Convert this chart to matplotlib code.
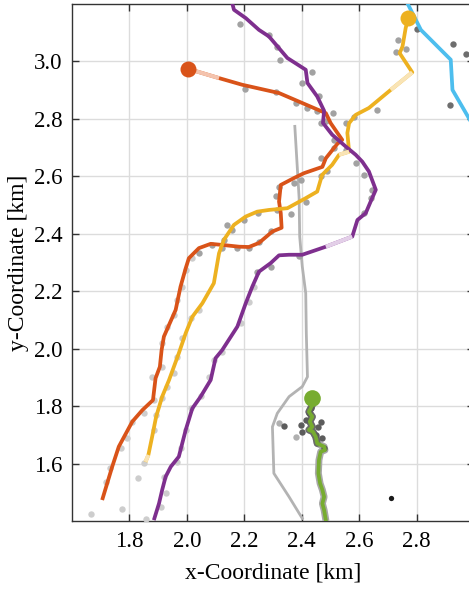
import matplotlib.pyplot as plt

plt.rcParams['font.family'] = ['Liberation Serif', 'DejaVu Serif']
plt.rcParams['mathtext.fontset'] = 'stix'

# --- trajectories (x, y in km) ---
orange_x = [2.005, 2.112, 2.192, 2.321, 2.484, 2.501, 2.541, 2.524, 2.484, 2.472, 2.408, 2.373,
            2.327, 2.321, 2.327, 2.330, 2.298, 2.251, 2.216, 2.182, 2.135, 2.083, 2.042, 2.007,
            1.996, 1.978, 1.961, 1.938, 1.920, 1.912, 1.906, 1.891, 1.882, 1.845, 1.810, 1.763,
            1.740, 1.705]
orange_y = [2.974, 2.942, 2.919, 2.890, 2.820, 2.785, 2.727, 2.713, 2.663, 2.633, 2.611, 2.594,
            2.570, 2.512, 2.472, 2.421, 2.408, 2.368, 2.354, 2.355, 2.360, 2.365, 2.350, 2.315,
            2.280, 2.216, 2.135, 2.083, 2.042, 1.995, 1.937, 1.897, 1.821, 1.786, 1.746, 1.659,
            1.589, 1.473]
orange_faded = [(0, 1)]

yellow_x = [2.771, 2.762, 2.751, 2.741, 2.785, 2.710, 2.634, 2.588, 2.565, 2.559, 2.565, 2.530,
            2.506, 2.471, 2.454, 2.414, 2.350, 2.286, 2.245, 2.205, 2.164, 2.129, 2.112, 2.094,
            2.054, 2.019, 1.996, 1.972, 1.938, 1.914, 1.893, 1.879, 1.866, 1.856]
yellow_y = [3.151, 3.116, 3.052, 3.029, 2.962, 2.901, 2.838, 2.814, 2.785, 2.751, 2.686, 2.675,
            2.640, 2.605, 2.547, 2.524, 2.489, 2.483, 2.477, 2.460, 2.431, 2.379, 2.332, 2.228,
            2.158, 2.111, 2.054, 1.984, 1.891, 1.833, 1.763, 1.693, 1.630, 1.606]
yellow_faded = [(4, 5), (10, 11), (32, 33)]

purple_x = [2.158, 2.164, 2.205, 2.251, 2.286, 2.350, 2.414, 2.420, 2.454, 2.478, 2.474, 2.506,
            2.553, 2.588, 2.611, 2.634, 2.658, 2.640, 2.623, 2.594, 2.576, 2.484, 2.402, 2.356,
            2.321, 2.292, 2.251, 2.228, 2.205, 2.176, 2.123, 2.100, 2.083, 2.048, 2.019, 1.996,
            1.972, 1.944, 1.926, 1.914, 1.903, 1.885]
purple_y = [3.203, 3.180, 3.151, 3.110, 3.087, 3.012, 2.971, 2.925, 2.878, 2.828, 2.786, 2.745,
            2.704, 2.675, 2.651, 2.617, 2.553, 2.512, 2.472, 2.448, 2.390, 2.355, 2.327, 2.327,
            2.325, 2.298, 2.268, 2.216, 2.158, 2.077, 1.995, 1.967, 1.891, 1.833, 1.792, 1.717,
            1.624, 1.589, 1.554, 1.508, 1.461, 1.403]
purple_faded = [(20, 21)]

blue_x = [2.768, 2.815, 2.919, 2.925, 2.979, 2.995]
blue_y = [3.203, 3.110, 3.006, 2.901, 2.808, 2.780]

gray_x = [2.376, 2.391, 2.393, 2.402, 2.414, 2.416, 2.420, 2.402, 2.356, 2.315, 2.298, 2.303,
          2.356, 2.402]
gray_y = [2.774, 2.524, 2.390, 2.286, 2.193, 2.054, 1.902, 1.868, 1.833, 1.775, 1.728, 1.566,
          1.484, 1.409]

green_x = [2.437, 2.437, 2.425, 2.437, 2.428, 2.437, 2.425, 2.439, 2.449, 2.454, 2.478, 2.481,
           2.466, 2.460, 2.458, 2.464, 2.472, 2.478, 2.472, 2.478, 2.484]
green_y = [1.827, 1.804, 1.780, 1.763, 1.746, 1.728, 1.717, 1.711, 1.693, 1.670, 1.659, 1.647,
           1.641, 1.612, 1.566, 1.531, 1.508, 1.484, 1.461, 1.438, 1.403]

# --- measurement points ---
mid_x = [2.185, 2.201, 2.286, 2.315, 2.323, 2.435, 2.402, 2.460, 2.309, 2.381, 2.420, 2.454,
         2.509, 2.466, 2.484, 2.553, 2.582, 2.663, 2.513, 2.513, 2.553, 2.466, 2.588, 2.617,
         2.466, 2.489, 2.397, 2.373, 2.321, 2.309, 2.646, 2.414, 2.315, 2.362, 2.640, 2.617,
         2.249, 2.199, 2.158, 2.292, 2.129, 2.251, 2.176, 2.088, 2.042, 2.216, 2.391, 2.292,
         2.245, 2.141, 2.123, 2.737, 2.730, 2.764]
mid_y = [3.131, 2.904, 3.093, 3.052, 3.006, 2.962, 2.925, 2.878, 2.892, 2.855, 2.838, 2.826,
         2.822, 2.787, 2.794, 2.785, 2.808, 2.832, 2.727, 2.698, 2.692, 2.663, 2.646, 2.605,
         2.600, 2.619, 2.588, 2.578, 2.564, 2.530, 2.553, 2.512, 2.483, 2.469, 2.524, 2.472,
         2.472, 2.448, 2.414, 2.408, 2.379, 2.373, 2.350, 2.361, 2.332, 2.350, 2.321, 2.286,
         2.268, 2.431, 2.350, 3.073, 3.033, 3.043]

light_x = [2.019, 1.996, 1.984, 1.967, 1.955, 1.932, 1.914, 1.912, 1.879, 1.885, 1.851, 1.810,
           1.792, 1.769, 1.734, 1.717, 1.665, 1.773, 1.831, 1.851, 2.042, 2.013, 1.984, 1.967,
           1.955, 1.932, 1.914, 1.891, 1.885, 2.234, 2.216, 2.187, 2.123, 2.094, 2.077, 2.048,
           2.013, 1.996, 1.978, 1.967, 1.920, 1.926, 1.909, 1.856]
light_y = [2.315, 2.274, 2.216, 2.170, 2.117, 2.077, 2.019, 1.937, 1.902, 1.821, 1.775, 1.746,
           1.688, 1.653, 1.583, 1.537, 1.426, 1.441, 1.550, 1.601, 2.135, 2.106, 2.036, 1.972,
           1.914, 1.868, 1.827, 1.769, 1.717, 2.216, 2.164, 2.089, 1.990, 1.961, 1.902, 1.835,
           1.792, 1.717, 1.653, 1.606, 1.554, 1.496, 1.449, 1.406]

dark_x = [2.803, 2.928, 2.971, 2.916]
dark_y = [3.113, 3.062, 3.027, 2.847]

green_pts_x = [2.338, 2.402, 2.397, 2.414, 2.425, 2.468, 2.458, 2.478, 2.431, 2.449, 2.470]
green_pts_y = [1.732, 1.709, 1.734, 1.752, 1.775, 1.746, 1.728, 1.653, 1.792, 1.700, 1.690]
green_pts_light_x = [2.321, 2.381]
green_pts_light_y = [1.742, 1.693]

black_x = [2.710]
black_y = [1.481]


def draw_track(ax, xs, ys, color, faded_color, faded):
    ax.plot(xs, ys, color=color, lw=2.7, solid_capstyle='butt', zorder=4)
    for i0, i1 in faded:
        ax.plot(xs[i0:i1 + 1], ys[i0:i1 + 1], color=faded_color, lw=2.9,
                solid_capstyle='butt', zorder=4.1)


fig = plt.figure(figsize=(4.69, 5.90), dpi=100)
ax = fig.add_axes([72 / 469, 69 / 590, 402 / 469, 517 / 590])

ax.plot(gray_x, gray_y, color='#b3b3b3', lw=2.0, zorder=2)

ax.plot(light_x, light_y, 'o', color='#cdcdcd', ms=4.6, mec='none', zorder=3)
ax.plot(mid_x, mid_y, 'o', color='#a2a2a2', ms=4.6, mec='none', zorder=3)
ax.plot(dark_x, dark_y, 'o', color='#6e6e6e', ms=4.6, mec='none', zorder=3)

draw_track(ax, orange_x, orange_y, '#D95319', '#F4C3AD', orange_faded)
draw_track(ax, yellow_x, yellow_y, '#EDB120', '#F9E4B5', yellow_faded)
draw_track(ax, purple_x, purple_y, '#7E2F8E', '#E3CFE8', purple_faded)
ax.plot(blue_x, blue_y, color='#4DBEEE', lw=2.7, zorder=4)

# green track with its measurement trail
ax.plot(green_x, green_y, color='#a8a8a8', lw=5, zorder=3.5, solid_capstyle='round')
ax.plot(green_x[:10], green_y[:10], color='#6a6a6a', lw=5, zorder=3.6, solid_capstyle='round')
ax.plot(green_pts_light_x, green_pts_light_y, 'o', color='#b0b0b0', ms=4.6, mec='none', zorder=3.6)
ax.plot(green_pts_x, green_pts_y, 'o', color='#5c5c5c', ms=4.6, mec='none', zorder=3.6)
ax.plot(green_x, green_y, color='#77AC30', lw=2.7, zorder=4.5)

ax.plot(black_x, black_y, 'o', color='#1a1a1a', ms=3.8, mec='none', zorder=5)

# start markers
ax.plot(orange_x[0], orange_y[0], 'o', color='#D95319', ms=11.5, mec='none', zorder=6)
ax.plot(yellow_x[0], yellow_y[0], 'o', color='#EDB120', ms=11.5, mec='none', zorder=6)
ax.plot(green_x[0], green_y[0], 'o', color='#77AC30', ms=12, mec='none', zorder=6)

ax.set_xlim(1.6, 3.0)
ax.set_ylim(1.4, 3.2)
ax.set_xticks([1.8, 2.0, 2.2, 2.4, 2.6, 2.8])
ax.set_xticklabels(['1.8', '2.0', '2.2', '2.4', '2.6', '2.8'])
ax.set_yticks([1.6, 1.8, 2.0, 2.2, 2.4, 2.6, 2.8, 3.0])
ax.set_yticklabels(['1.6', '1.8', '2.0', '2.2', '2.4', '2.6', '2.8', '3.0'])
ax.grid(True, color='#dcdcdc', lw=1.0, zorder=0)
ax.set_axisbelow(True)
ax.tick_params(direction='in', top=True, right=True, length=5, width=1.0,
               color='#333333', labelsize=16.5, pad=7)
for s in ax.spines.values():
    s.set_color('#333333')
    s.set_linewidth(1.0)

ax.set_xlabel('x-Coordinate [km]', fontsize=17, labelpad=8)
ax.set_ylabel('y-Coordinate [km]', fontsize=17, labelpad=3)

fig.savefig('out.png', dpi=100)
